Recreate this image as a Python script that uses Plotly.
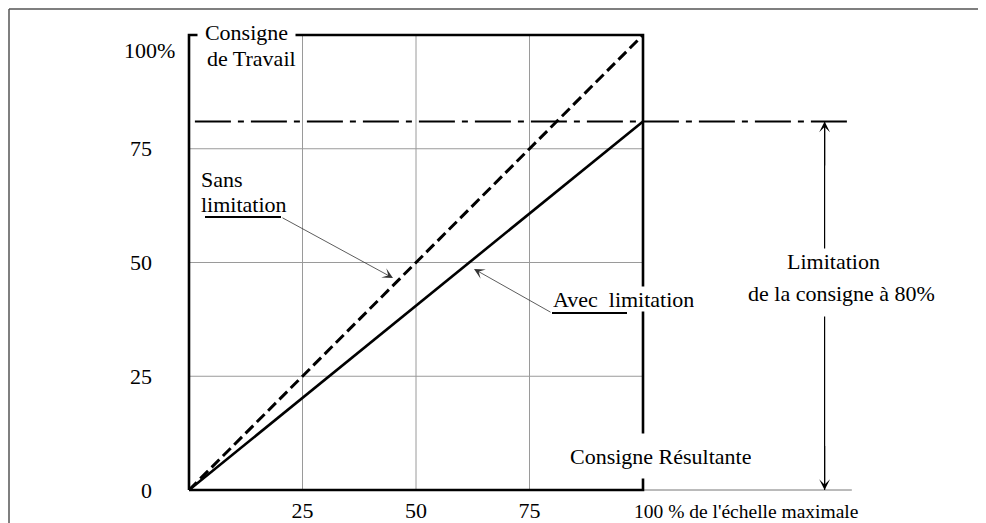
"""
Limitation de la consigne : consigne de travail vs consigne résultante.
"""

import plotly.graph_objects as go

# ── Data ────────────────────────────────────────────────────────────────────
pct = [0, 100]                 # % de l'échelle maximale
sans_limitation = [0, 100]     # consigne sans limitation
avec_limitation = [0, 81]      # consigne limitée (tracé à ~81 %)
limit_level = 81
grid_ticks = [25, 50, 75]
x_ticks = [25, 50, 75]
x_ticktext = ["25", "50", "75"]
y_ticks = [0, 25, 50, 75]
y_ticktext = ["0", "25", "50", "75"]
ext_x = 146                    # prolongement à droite du cadre
arrow_x = 140                  # flèche de cote "Limitation"

# ── Style / page geometry ───────────────────────────────────────────────────
_FONT = "Liberation Serif, Times New Roman, serif"
_FS = 22
_GRID = "#9a9a9a"
_PAGE = 8                      # default body margin of the html page
_W, _H = 986 - _PAGE, 523 - _PAGE
_X0, _SX = 189, 4.54           # page pixel of x=0, px per unit
_Y0, _SY = 490, 4.55           # page pixel of y=0, px per unit


def dx(px):
    return (px - _X0) / _SX


def dy(py):
    return (_Y0 - py) / _SY


x_range = [dx(_PAGE), dx(986)]
y_range = [dy(523), dy(_PAGE)]

fig = go.Figure()

# grid
gx, gy = [], []
for t in grid_ticks:
    gx += [t, t, None, pct[0], pct[1], None]
    gy += [pct[0], pct[1], None, t, t, None]
fig.add_trace(go.Scatter(x=gx, y=gy, mode="lines",
                         line=dict(color=_GRID, width=1), hoverinfo="skip"))

# thin extension of the bottom axis
fig.add_trace(go.Scatter(x=[pct[1], ext_x], y=[0, 0], mode="lines",
                         line=dict(color="#777777", width=1), hoverinfo="skip"))

# dash-dot limit line
fig.add_trace(go.Scatter(x=[1.3, ext_x], y=[limit_level, limit_level], mode="lines",
                         line=dict(color="black", width=2, dash="36px,7px,6px,7px"),
                         hoverinfo="skip"))

# frame of the diagram
fig.add_trace(go.Scatter(
    x=[pct[0], pct[1], pct[1], pct[0], pct[0]],
    y=[pct[0], pct[0], pct[1], pct[1], pct[0]],
    mode="lines", line=dict(color="black", width=2.6), hoverinfo="skip"))

# characteristic lines
fig.add_trace(go.Scatter(x=pct, y=sans_limitation, mode="lines",
                         line=dict(color="black", width=3, dash="11px,5px"),
                         name="Sans limitation"))
fig.add_trace(go.Scatter(x=pct, y=avec_limitation, mode="lines",
                         line=dict(color="black", width=2.6),
                         name="Avec limitation"))

# underlines of the callouts
fig.add_trace(go.Scatter(x=[dx(205), dx(281)], y=[dy(217), dy(217)], mode="lines",
                         line=dict(color="black", width=2), hoverinfo="skip"))
fig.add_trace(go.Scatter(x=[dx(552), dx(627)], y=[dy(313), dy(313)], mode="lines",
                         line=dict(color="black", width=2), hoverinfo="skip"))

# dimension line for the limitation
fig.add_trace(go.Scatter(x=[arrow_x, arrow_x], y=[0, limit_level], mode="lines",
                         line=dict(color="black", width=1.2), hoverinfo="skip"))

txt = dict(family=_FONT, size=_FS, color="black")
arrow_common = dict(xref="x", yref="y", axref="x", ayref="y", text="",
                    showarrow=True, arrowhead=3, standoff=0)
ann = [
    # leader arrows
    dict(x=dx(393), y=dy(278), ax=dx(281), ay=dy(217), arrowsize=2.2,
         arrowwidth=0.8, arrowcolor="#333333", **arrow_common),
    dict(x=dx(474), y=dy(269), ax=dx(552), ay=dy(313), arrowsize=2.2,
         arrowwidth=0.8, arrowcolor="#333333", **arrow_common),
    # dimension arrow heads
    dict(x=arrow_x, y=limit_level, ax=arrow_x, ay=limit_level - 10,
         arrowsize=1.5, arrowwidth=1.2, arrowcolor="black", **arrow_common),
    dict(x=arrow_x, y=0, ax=arrow_x, ay=10,
         arrowsize=1.5, arrowwidth=1.2, arrowcolor="black", **arrow_common),
    # "Consigne de Travail" (first line masks the top of the frame)
    dict(x=dx(246.5), y=dy(32), text="Consigne", width=97, align="center",
         bgcolor="white", borderpad=0, showarrow=False, font=txt),
    dict(x=dx(206), y=dy(58), text="de Travail", xanchor="left",
         borderpad=0, showarrow=False, font=txt),
    # "Sans limitation"
    dict(x=dx(200), y=dy(179), text="Sans", xanchor="left",
         borderpad=0, showarrow=False, font=txt),
    dict(x=dx(200), y=dy(204), text="limitation", xanchor="left",
         borderpad=0, showarrow=False, font=txt),
    # "Avec limitation"
    dict(x=dx(552), y=dy(299), text="Avec  limitation", xanchor="left",
         height=24, bgcolor="white", borderpad=0, showarrow=False, font=txt),
    # "Consigne Résultante"
    dict(x=dx(660), y=dy(456), text="Consigne Résultante", height=44,
         bgcolor="white", borderpad=0, showarrow=False, font=txt),
    # "Limitation de la consigne à 80%"
    dict(x=dx(833), y=dy(248), text="Limitation", yanchor="top", height=32,
         valign="top", bgcolor="white", borderpad=0, showarrow=False, font=txt),
    dict(x=dx(841), y=dy(280), text="de la consigne à 80%", yanchor="top",
         height=35, valign="top", bgcolor="white", borderpad=0,
         showarrow=False, font=txt),
    # axis end labels
    dict(x=pct[1], y=0, text="100 % de l'échelle maximale", xanchor="left",
         xshift=-11, yshift=-21, showarrow=False,
         font=dict(family=_FONT, size=19.5, color="black")),
    dict(x=0, y=100, text="100%", xanchor="right", xshift=-12, yshift=-15,
         showarrow=False, font=txt),
]
for a in ann:
    a.setdefault("xref", "x")
    a.setdefault("yref", "y")

fig.update_layout(
    width=_W, height=_H,
    margin=dict(l=0, r=0, t=0, b=0),
    paper_bgcolor="white", plot_bgcolor="white",
    showlegend=False,
    font=txt,
    annotations=ann,
    shapes=[
        dict(type="line", xref="paper", yref="paper", x0=1 / _W, x1=1 / _W,
             y0=-0.05, y1=1 - 1 / _H, line=dict(color="#555555", width=1.5)),
        dict(type="line", xref="paper", yref="paper", x0=1 / _W, x1=1.05,
             y0=1 - 1 / _H, y1=1 - 1 / _H, line=dict(color="#555555", width=1.5)),
    ],
    xaxis=dict(range=x_range, domain=[0, 1], anchor="free",
               position=(523 - _Y0) / _H, showgrid=False, zeroline=False,
               showline=False, tickvals=x_ticks, ticktext=x_ticktext,
               ticks="", ticklabelstandoff=5, fixedrange=True),
    yaxis=dict(range=y_range, domain=[0, 1], anchor="free",
               position=(_X0 - _PAGE) / _W, showgrid=False, zeroline=False,
               showline=False, tickvals=y_ticks, ticktext=y_ticktext,
               ticks="", ticklabelstandoff=37, fixedrange=True),
)

fig.write_html("out.html")
